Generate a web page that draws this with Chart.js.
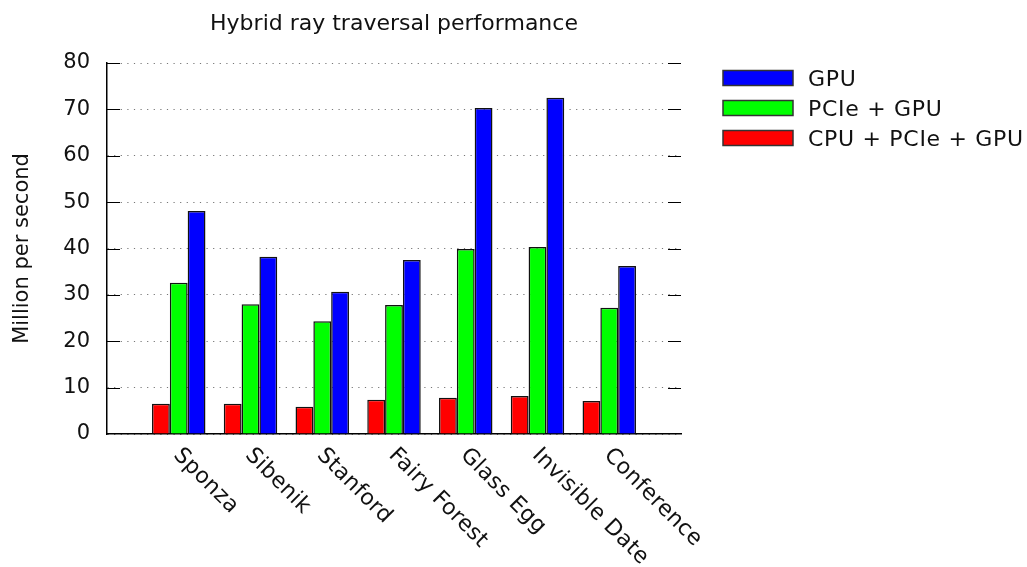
<!DOCTYPE html>
<html>
<head>
<meta charset="utf-8">
<script src="https://cdn.jsdelivr.net/npm/chart.js@4"></script>
<style>
  body { margin: 0; background: #fff; }
  #wrap { width: 1027px; height: 567px; }
</style>
</head>
<body>
<div id="wrap"><canvas id="chart" width="1027" height="567"></canvas></div>
<script>
// scenes on the x axis
const scenes = ['Sponza', 'Sibenik', 'Stanford', 'Fairy Forest', 'Glass Egg', 'Invisible Date', 'Conference'];
// million rays per second
const cpuPcieGpu = [6.5, 6.5, 5.9, 7.4, 7.8, 8.2, 7.1];
const pcieGpu = [32.6, 28.0, 24.3, 27.8, 39.9, 40.3, 27.2];
const gpuOnly = [48.1, 38.2, 30.7, 37.5, 70.3, 72.5, 36.2];
const yTicks = [0, 10, 20, 30, 40, 50, 60, 70, 80];

const FONT = 'DejaVu Sans';
const TXT = '#111';

// empty slot on each side, like the gnuplot xrange
const labels = ['', ...scenes, ''];
const pad = arr => [null, ...arr, null];

// title, legend, slanted labels and the short tick marks
const extras = {
    id: 'extras',
    afterDraw(chart) {
        const ctx = chart.ctx;
        const area = chart.chartArea;
        const xs = chart.scales.x;
        const ys = chart.scales.y;
        ctx.save();

        // short solid ticks on both sides
        ctx.strokeStyle = '#000';
        ctx.lineWidth = 1.2;
        yTicks.forEach(v => {
            if (v === 0) return;
            const y = Math.round(ys.getPixelForValue(v)) + 0.5;
            ctx.beginPath();
            ctx.moveTo(area.left, y);
            ctx.lineTo(area.left + 13, y);
            ctx.moveTo(area.right - 13, y);
            ctx.lineTo(area.right, y);
            ctx.stroke();
        });

        // title
        ctx.fillStyle = TXT;
        ctx.font = '22px "' + FONT + '"';
        ctx.textAlign = 'center';
        ctx.textBaseline = 'alphabetic';
        ctx.fillText('Hybrid ray traversal performance', (area.left + area.right) / 2, 29.5);

        // rotated scene names
        ctx.letterSpacing = '0.3px';
        ctx.textAlign = 'left';
        ctx.textBaseline = 'middle';
        scenes.forEach((name, i) => {
            const x = xs.getPixelForValue(i + 1);
            ctx.save();
            ctx.translate(x - 2, area.bottom + 18);
            ctx.rotate(Math.PI / 4);
            ctx.fillText(name, 0, 0);
            ctx.restore();
        });

        // legend, top entry is the last dataset
        ctx.letterSpacing = '0.7px';
        const items = chart.data.datasets.slice().reverse();
        items.forEach((ds, i) => {
            const cy = 78 + i * 30;
            ctx.fillStyle = ds.backgroundColor;
            ctx.fillRect(723, cy - 7.5, 70, 15);
            ctx.strokeStyle = '#333';
            ctx.lineWidth = 1.5;
            ctx.strokeRect(723, cy - 7.5, 70, 15);
            ctx.fillStyle = TXT;
            ctx.textBaseline = 'alphabetic';
            ctx.fillText(ds.label, 808, cy + 7.5);
        });
        ctx.restore();
    }
};

Chart.defaults.font.family = FONT;
Chart.defaults.font.size = 21;
Chart.defaults.color = TXT;

new Chart(document.getElementById('chart'), {
    type: 'bar',
    data: {
        labels: labels,
        datasets: [
            { label: 'CPU + PCIe + GPU', data: pad(cpuPcieGpu), backgroundColor: '#ff0000' },
            { label: 'PCIe + GPU', data: pad(pcieGpu), backgroundColor: '#00ff00' },
            { label: 'GPU', data: pad(gpuOnly), backgroundColor: '#0000ff' }
        ]
    },
    options: {
        responsive: false,
        animation: false,
        layout: { padding: { left: 0, right: 346, top: 63, bottom: 0 } },
        datasets: {
            bar: {
                borderColor: '#111',
                borderWidth: 1.5,
                categoryPercentage: 0.745,
                barPercentage: 1.0
            }
        },
        plugins: {
            legend: { display: false },
            tooltip: { enabled: false },
            title: { display: false }
        },
        scales: {
            x: {
                offset: false,
                grid: { display: false, drawTicks: false },
                border: { display: true, color: '#000', width: 1.5 },
                ticks: { display: false },
                afterFit: s => { s.height = 133; }
            },
            y: {
                min: 0,
                max: 80,
                afterBuildTicks: s => { s.ticks = yTicks.map(v => ({ value: v })); },
                ticks: { padding: 17, color: TXT, font: { size: 21 } },
                grid: { color: '#777', lineWidth: 1, drawTicks: false },
                border: { display: true, color: '#000', width: 1.5, dash: [1.2, 5.4] },
                title: {
                    display: true,
                    text: 'Million per second',
                    color: TXT,
                    font: { size: 21 },
                    padding: { top: 10, bottom: 0 }
                },
                afterFit: s => { s.width = 107; }
            }
        }
    },
    plugins: [extras]
});
</script>
</body>
</html>
